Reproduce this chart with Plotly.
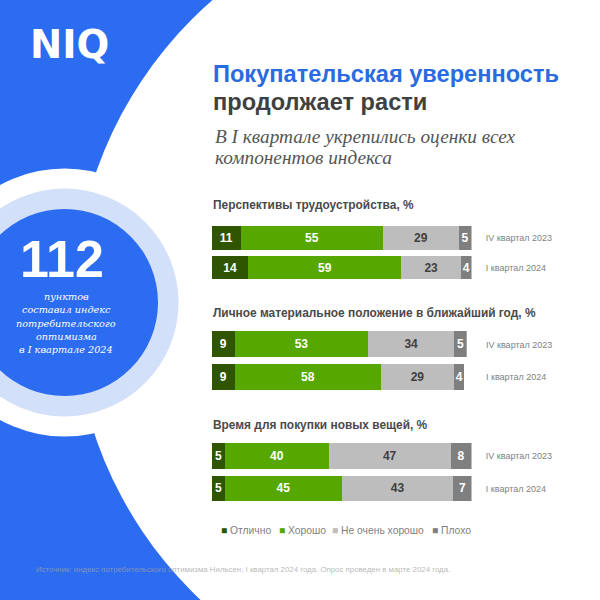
import plotly.graph_objects as go

# данные
periods = ['IV квартал 2023', 'I квартал 2024']
series_names = ['Отлично', 'Хорошо', 'Не очень хорошо', 'Плохо']
series_colors = ['#2F5500', '#56A800', '#BDBDBD', '#7F7F7F']
label_colors = ['white', 'white', '#404040', 'white']

group_titles = ['Перспективы трудоустройства, %',
                'Личное материальное положение в ближайший год, %',
                'Время для покупки новых вещей, %']

excellent = [[11, 14], [9, 9], [5, 5]]
good = [[55, 59], [53, 58], [40, 45]]
not_good = [[29, 23], [34, 29], [47, 43]]
bad = [[5, 4], [5, 4], [8, 7]]

BLUE = '#2C6CF0'


def px(x):
    return x / 600


def py(y):
    return 1 - y / 600


def label(text, x, y, size, color, family='Liberation Sans', bold=False, italic=False, anchor='left'):
    if bold:
        text = '<b>' + text + '</b>'
    if italic:
        text = '<i>' + text + '</i>'
    return dict(text=text, x=px(x), y=py(y), xref='paper', yref='paper', showarrow=False,
                xanchor=anchor, yanchor='middle', borderpad=0,
                font=dict(size=size, color=color, family=family))


def circle(cx, cy, r, color):
    return dict(type='circle', xref='paper', yref='paper', layer='below', line_width=0, fillcolor=color,
                x0=px(cx - r), x1=px(cx + r), y0=py(cy + r), y1=py(cy - r))


fig = go.Figure()

# три группы: у каждой свои оси, пиксели из референса
x_right = [471.5, 466.7, 471.5]
x_max = [100, 101, 100]
y_top = [223, 328, 440]
y_bottom = [282.6, 393.5, 504.6]
tick_len = [11.5, 16.5, 11.5]

values = [excellent, good, not_good, bad]
for g in range(3):
    suffix = '' if g == 0 else str(g + 1)
    for s in range(4):
        fig.add_trace(go.Bar(
            y=periods, x=values[s][g], orientation='h', name=series_names[s],
            xaxis='x' + suffix, yaxis='y' + suffix,
            marker=dict(color=series_colors[s], line_width=0),
            text=values[s][g], textposition='inside', insidetextanchor='middle',
            textangle=0, constraintext='none', cliponaxis=False,
            textfont=dict(size=12, color=label_colors[s], family='Liberation Sans', weight='bold'),
            showlegend=False))
    fig.update_layout({
        'xaxis' + suffix: dict(domain=[px(212), px(x_right[g])], range=[0, x_max[g]], visible=False,
                               anchor='y' + suffix),
        'yaxis' + suffix: dict(domain=[py(y_bottom[g]), py(y_top[g])], anchor='x' + suffix, side='right',
                               autorange='reversed', showgrid=False, showline=False, ticks='outside',
                               ticklen=tick_len[g], tickcolor='rgba(0,0,0,0)',
                               tickfont=dict(size=9, color='#7F7F7F', family='Liberation Sans')),
    })

annotations = [
    label('NIQ', 29, 44, 38.5, 'white', family='DejaVu Sans', bold=True),
    label('Покупательская уверенность', 212, 74, 23.6, '#2A6BE0', bold=True),
    label('продолжает расти', 212, 102, 23.6, '#404040', bold=True),
    label('В I квартале укрепились оценки всех', 214, 137, 19.3, '#555555', family='Liberation Serif', italic=True),
    label('компонентов индекса', 214, 157, 19.3, '#555555', family='Liberation Serif', italic=True),
    label(group_titles[0], 212, 205, 11.9, '#4A4A4A', bold=True),
    label(group_titles[1], 212, 313, 11.9, '#4A4A4A', bold=True),
    label(group_titles[2], 212, 425, 11.9, '#4A4A4A', bold=True),
    label('112', 62, 259, 52, 'white', bold=True, anchor='center'),
    label('Источник: индекс потребительского оптимизма Нильсен, I квартал 2024 года. '
          'Опрос проведен в марте 2024 года.', 34.5, 569, 7.85, 'rgba(160,160,160,0.75)'),
]

circle_lines = ['пунктов', 'составил индекс', 'потребительского', 'оптимизма', 'в I квартале 2024']
for i, line in enumerate(circle_lines):
    annotations.append(label(line, 66, 296.5 + i * 13.3, 9.7, 'white', family='DejaVu Serif', italic=True, anchor='center'))

legend_x = [220, 278, 331, 431]
for name, color, x in zip(series_names, series_colors, legend_x):
    annotations.append(label(f'<span style="color:{color}">■</span> {name}', x, 530, 10.3, '#7F7F7F'))

fig.update_layout(
    width=600, height=600, margin=dict(l=0, r=0, t=0, b=0),
    paper_bgcolor=BLUE, plot_bgcolor='rgba(0,0,0,0)',
    barmode='stack', bargap=0.21,
    shapes=[circle(478.5, 305.4, 405, 'white'),
            circle(64.5, 302.5, 134, 'white'),
            circle(64.5, 302.5, 114, '#D3E0F9'),
            circle(64.5, 302.5, 93.5, BLUE)],
    annotations=annotations,
)

# у body по умолчанию отступ 8px, убираем
fig.write_html("out.html", config={'displayModeBar': False}, post_script="document.body.style.margin = '0';")
